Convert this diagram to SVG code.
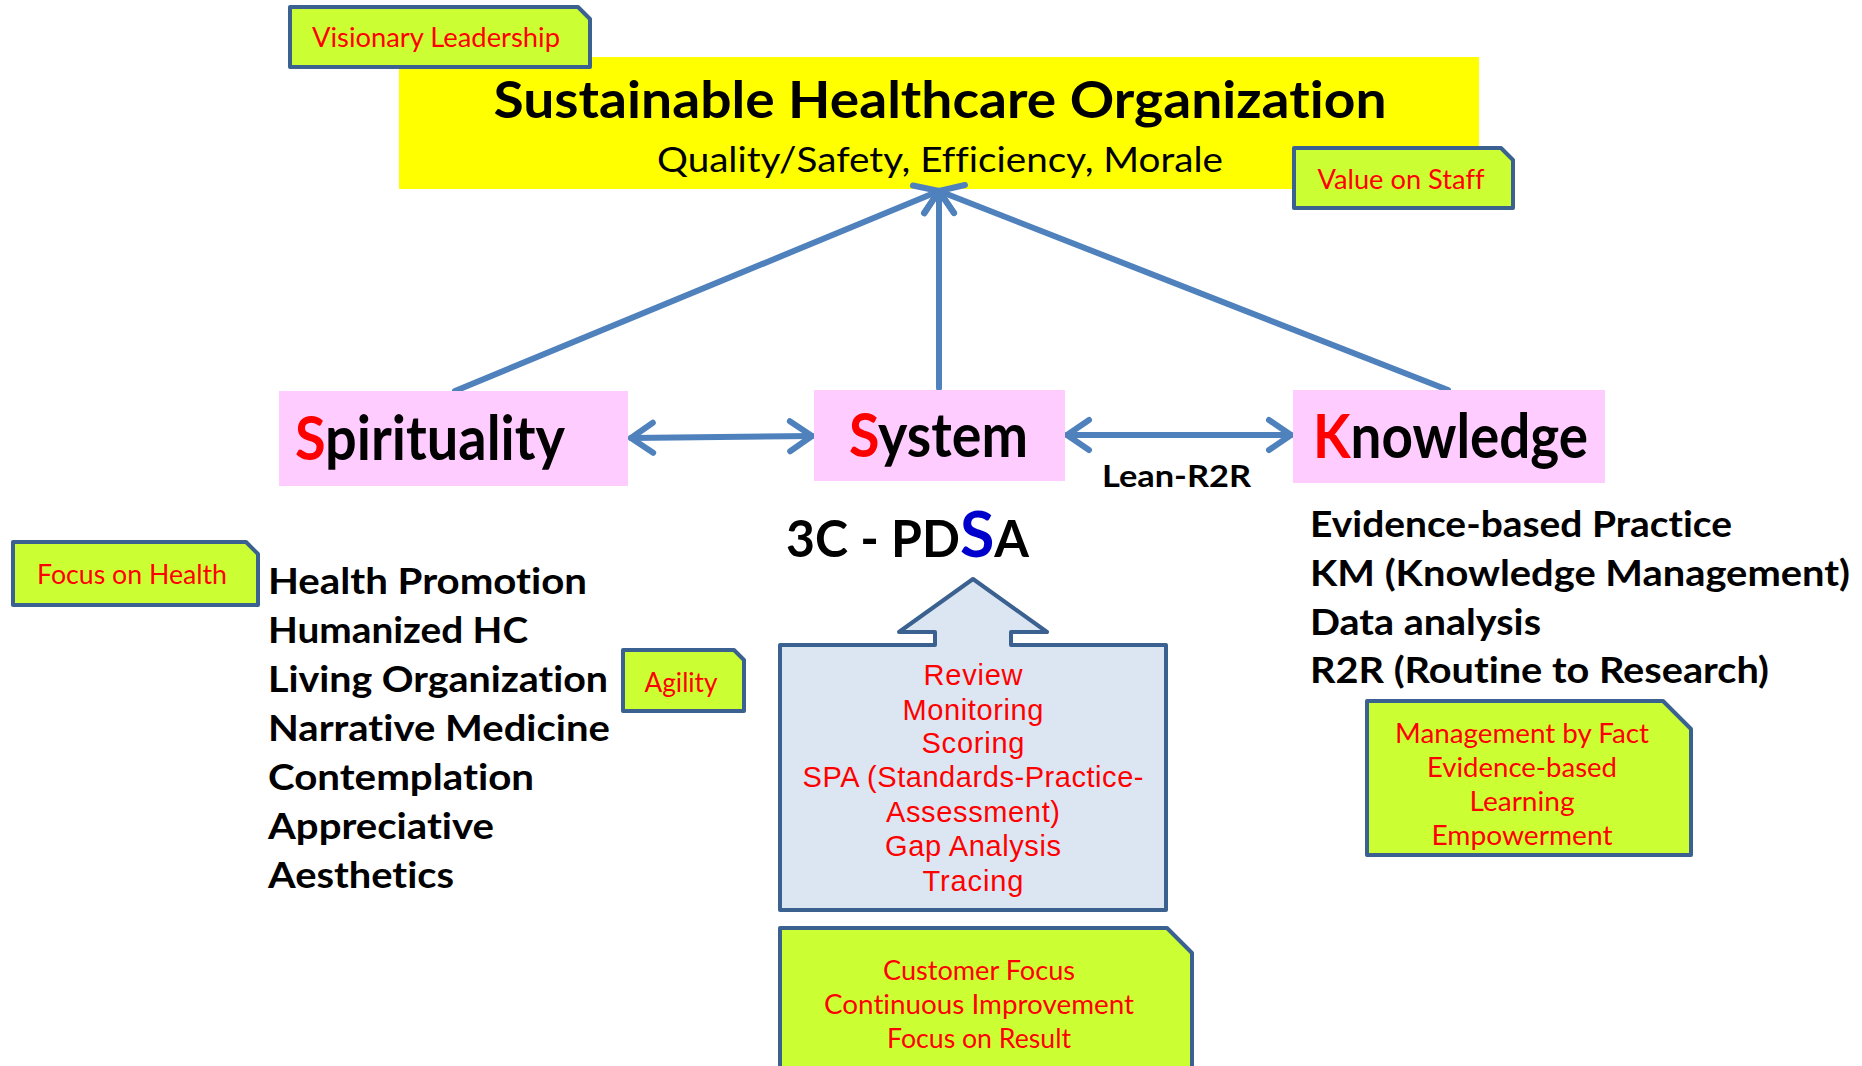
<svg xmlns="http://www.w3.org/2000/svg" width="1862" height="1066" viewBox="0 0 1862 1066">
<style>
text{font-variant-ligatures:none}
.cal{font-family:Lato,"Open Sans","Liberation Sans",sans-serif}
.b{font-weight:700}
.red{fill:#FF0000}
.blk{fill:#000000}
.tag{fill:#CCFF33;stroke:#3B6190;stroke-width:4;stroke-linejoin:round}
.pink{fill:#FFCCFF}
.conn{fill:none;stroke:#4F81BD;stroke-width:6;stroke-linecap:round}
.ar{font-family:"Liberation Sans",Arial,sans-serif;fill:#FF0000;font-size:29px}
</style>
<defs>
<marker id="ah" markerUnits="userSpaceOnUse" viewBox="-30 -20 36 40" refX="0" refY="0" markerWidth="36" markerHeight="40" orient="auto-start-reverse">
<path d="M-22,-15 L0,0 L-22,15" fill="none" stroke="#4F81BD" stroke-width="6" stroke-linecap="round" stroke-linejoin="round"/>
</marker>
</defs>
<rect width="1862" height="1066" fill="#FFFFFF"/>

<g id="goal">
<rect x="399" y="57" width="1080" height="132" fill="#FFFF00"/>
<text class="cal b blk" x="940" y="118" font-size="51" text-anchor="middle" textLength="893" lengthAdjust="spacingAndGlyphs">Sustainable Healthcare Organization</text>
<text class="cal blk" x="940" y="172" font-size="35" text-anchor="middle" textLength="566" lengthAdjust="spacingAndGlyphs">Quality/Safety, Efficiency, Morale</text>
</g>

<g id="visionary">
<path class="tag" d="M290,7 H578 L590,19 V67 H290 Z"/>
<text class="cal red" x="436" y="47" font-size="26" text-anchor="middle" textLength="248" lengthAdjust="spacingAndGlyphs">Visionary Leadership</text>
</g>

<g id="value-staff">
<path class="tag" d="M1294,148 H1501 L1513,160 V208 H1294 Z"/>
<text class="cal red" x="1401" y="189" font-size="26" text-anchor="middle" textLength="167" lengthAdjust="spacingAndGlyphs">Value on Staff</text>
</g>

<g id="connectors">
<line class="conn" x1="455" y1="391" x2="939" y2="191" marker-end="url(#ah)"/>
<line class="conn" x1="939" y1="388" x2="939" y2="191" marker-end="url(#ah)"/>
<line class="conn" x1="1448" y1="390" x2="939" y2="191" marker-end="url(#ah)"/>
<line class="conn" x1="631" y1="438" x2="812" y2="436" marker-start="url(#ah)" marker-end="url(#ah)"/>
<line class="conn" x1="1067" y1="435" x2="1291" y2="435" marker-start="url(#ah)" marker-end="url(#ah)"/>
</g>

<g id="spirituality">
<rect class="pink" x="279" y="391" width="349" height="95"/>
<text class="cal b blk" x="295" y="460" font-size="62" textLength="270" lengthAdjust="spacingAndGlyphs"><tspan class="red">S</tspan>pirituality</text>
</g>

<g id="system">
<rect class="pink" x="814" y="390" width="251" height="91"/>
<text class="cal b blk" x="849" y="457" font-size="62" textLength="179" lengthAdjust="spacingAndGlyphs"><tspan class="red">S</tspan>ystem</text>
</g>

<g id="knowledge">
<rect class="pink" x="1293" y="390" width="312" height="93"/>
<text class="cal b blk" x="1313" y="458" font-size="62" textLength="275" lengthAdjust="spacingAndGlyphs"><tspan class="red">K</tspan>nowledge</text>
</g>

<g id="lean-r2r">
<text class="cal b blk" x="1102" y="487" font-size="31" textLength="149" lengthAdjust="spacingAndGlyphs">Lean-R2R</text>
</g>

<g id="pdsa">
<text class="cal b blk" x="786" y="557" font-size="51" textLength="243" lengthAdjust="spacingAndGlyphs">3C - PD<tspan fill="#0000CC" font-size="64">S</tspan>A</text>
</g>

<g id="focus-health">
<path class="tag" d="M13,542 H246 L258,554 V605 H13 Z"/>
<text class="cal red" x="132" y="584" font-size="26" text-anchor="middle" textLength="190" lengthAdjust="spacingAndGlyphs">Focus on Health</text>
</g>

<g id="spirituality-list">
<text class="cal b blk" x="268" y="594" font-size="37" textLength="319" lengthAdjust="spacingAndGlyphs">Health Promotion</text>
<text class="cal b blk" x="268" y="643" font-size="37" textLength="260" lengthAdjust="spacingAndGlyphs">Humanized HC</text>
<text class="cal b blk" x="268" y="692" font-size="37" textLength="340" lengthAdjust="spacingAndGlyphs">Living Organization</text>
<text class="cal b blk" x="268" y="741" font-size="37" textLength="342" lengthAdjust="spacingAndGlyphs">Narrative Medicine</text>
<text class="cal b blk" x="268" y="790" font-size="37" textLength="266" lengthAdjust="spacingAndGlyphs">Contemplation</text>
<text class="cal b blk" x="268" y="839" font-size="37" textLength="226" lengthAdjust="spacingAndGlyphs">Appreciative</text>
<text class="cal b blk" x="268" y="888" font-size="37" textLength="186" lengthAdjust="spacingAndGlyphs">Aesthetics</text>
</g>

<g id="agility">
<path class="tag" d="M623,650 H734 L744,660 V711 H623 Z"/>
<text class="cal red" x="681" y="692" font-size="26" text-anchor="middle" textLength="73" lengthAdjust="spacingAndGlyphs">Agility</text>
</g>

<g id="check-callout">
<path d="M780,645 L935,645 L935,632 L899,632 L973,579 L1047,632 L1011,632 L1011,645 L1166,645 L1166,910 L780,910 Z" fill="#DCE6F2" stroke="#3B6190" stroke-width="4" stroke-linejoin="round"/>
<text class="ar" x="973" y="685" text-anchor="middle" textLength="99">Review</text>
<text class="ar" x="973" y="720" text-anchor="middle" textLength="141">Monitoring</text>
<text class="ar" x="973" y="753" text-anchor="middle" textLength="103">Scoring</text>
<text class="ar" x="973" y="787" text-anchor="middle" textLength="341">SPA (Standards-Practice-</text>
<text class="ar" x="973" y="822" text-anchor="middle" textLength="174">Assessment)</text>
<text class="ar" x="973" y="856" text-anchor="middle" textLength="176">Gap Analysis</text>
<text class="ar" x="973" y="891" text-anchor="middle" textLength="101">Tracing</text>
</g>

<g id="knowledge-list">
<text class="cal b blk" x="1310" y="537" font-size="37" textLength="422" lengthAdjust="spacingAndGlyphs">Evidence-based Practice</text>
<text class="cal b blk" x="1310" y="586" font-size="37" textLength="540" lengthAdjust="spacingAndGlyphs">KM (Knowledge Management)</text>
<text class="cal b blk" x="1310" y="635" font-size="37" textLength="231" lengthAdjust="spacingAndGlyphs">Data analysis</text>
<text class="cal b blk" x="1310" y="683" font-size="37" textLength="459" lengthAdjust="spacingAndGlyphs">R2R (Routine to Research)</text>
</g>

<g id="management-fact">
<path class="tag" d="M1367,701 H1663 L1691,729 V855 H1367 Z"/>
<text class="cal red" x="1522" y="743" font-size="26" text-anchor="middle" textLength="254" lengthAdjust="spacingAndGlyphs">Management by Fact</text>
<text class="cal red" x="1522" y="777" font-size="26" text-anchor="middle" textLength="190" lengthAdjust="spacingAndGlyphs">Evidence-based</text>
<text class="cal red" x="1522" y="811" font-size="26" text-anchor="middle" textLength="105" lengthAdjust="spacingAndGlyphs">Learning</text>
<text class="cal red" x="1522" y="845" font-size="26" text-anchor="middle" textLength="181" lengthAdjust="spacingAndGlyphs">Empowerment</text>
</g>

<g id="customer-focus">
<path class="tag" d="M780,928 H1167 L1192,953 V1085 H780 Z"/>
<text class="cal red" x="979" y="980" font-size="26" text-anchor="middle" textLength="192" lengthAdjust="spacingAndGlyphs">Customer Focus</text>
<text class="cal red" x="979" y="1014" font-size="26" text-anchor="middle" textLength="310" lengthAdjust="spacingAndGlyphs">Continuous Improvement</text>
<text class="cal red" x="979" y="1048" font-size="26" text-anchor="middle" textLength="184" lengthAdjust="spacingAndGlyphs">Focus on Result</text>
</g>
</svg>
